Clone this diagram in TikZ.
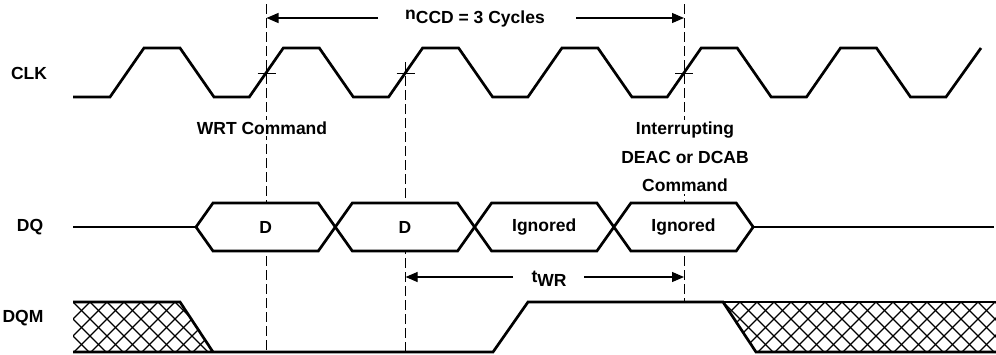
\documentclass[tikz,border=0pt]{standalone}
\usepackage{fontspec}
\setmainfont{Liberation Sans}
\usetikzlibrary{arrows.meta}
\begin{document}
\begin{tikzpicture}[x=1pt,y=-1pt,
  wave/.style={line width=2.7pt,line join=miter,line cap=butt},
  guide/.style={line width=0.9pt,dash pattern=on 10pt off 4pt},
  tickmark/.style={line width=1pt},
  dimline/.style={line width=1.2pt,-{Triangle[length=12pt,width=10pt]}},
  hatchline/.style={line width=1.1pt},
  lbl/.style={font=\fontsize{17.5}{20}\bfseries\selectfont,inner sep=1pt},
  celltext/.style={font=\fontsize{17.5}{20}\bfseries\selectfont,inner sep=1pt},
  note/.style={font=\fontsize{17.5}{28.5}\bfseries\selectfont,fill=white,inner sep=2pt,align=center}]
\useasboundingbox (0,0) rectangle (996,354);

% ---- guide (dashed) lines
\coordinate (g1t) at (266.5,4);   \coordinate (g1b) at (266.5,352);
\coordinate (g2t) at (405.6,62);  \coordinate (g2b) at (405.6,352);
\coordinate (g3t) at (684,4);     \coordinate (g3b) at (684,302);
\draw[guide] (g1t) -- (g1b);
\draw[guide] (g2t) -- (g2b);
\draw[guide] (g3t) -- (g3b);

% ---- signal names
\node[lbl] (clk) at (29,73) {CLK};
\node[lbl] (dq) at (30,227) {DQ};
\node[lbl] (dqm) at (23,318) {DQM};

% ---- clock
\draw[wave] (73,97)
  foreach \k in {0,...,5} {
    -- ({110+139.3*\k},97) -- ({144+139.3*\k},48)
    -- ({180+139.3*\k},48) -- ({214+139.3*\k},97) }
  -- (946,97) -- (981,48);

% crossing ticks
\foreach \g in {1,2,3} {
  \draw[tickmark] ([xshift=-9pt]g\g t |- 0,73) -- ([xshift=9pt]g\g t |- 0,73);
}

% ---- nCCD arrow
\node[lbl] (ccd) at (475,19) {\raisebox{4pt}{n}CCD = 3 Cycles};
\coordinate (ccdL) at (266.5,18);
\coordinate (ccdR) at (684,18);
\coordinate (ccdLs) at (378,18);
\coordinate (ccdRs) at (576,18);
\draw[dimline] (ccdLs) -- (ccdL);
\draw[dimline] (ccdRs) -- (ccdR);

% ---- command labels
\node[note] (wrt) at (262,128) {WRT Command};
\node[note] (intr) at (685,157) {Interrupting\\DEAC or DCAB\\Command};

% ---- DQ bus
\draw[wave] (73,227) -- (196,227);
\foreach \k/\t/\n in {0/D/d1,1/D/d2,2/Ignored/d3,3/Ignored/d4} {
  \pgfmathsetmacro{\a}{196+139.3*\k}
  \pgfmathsetmacro{\b}{196+139.3*(\k+1)}
  \draw[wave,fill=white] (\a,227) -- (\a+17,203) -- (\b-17,203) -- (\b,227)
     -- (\b-17,251) -- (\a+17,251) -- cycle;
  \node[celltext] (\n) at ({(\a+\b)/2},227) {\t};
}
\draw[wave] (753.2,227) -- (994,227);

% ---- tWR arrow
\node[lbl] (twr) at (549,279) {\raisebox{4pt}{t}WR};
\coordinate (twrL) at (405.6,277);
\coordinate (twrR) at (684,277);
\coordinate (twrLs) at (513,277);
\coordinate (twrRs) at (584,277);
\draw[dimline] (twrLs) -- (twrL);
\draw[dimline] (twrRs) -- (twrR);

% ---- DQM hatching
\begin{scope}
  \clip (73,302) -- (180,302) -- (213,352) -- (73,352) -- cycle;
  \foreach \x in {22,39,...,260} {
    \draw[hatchline] (\x,302) -- (\x+50,352);
    \draw[hatchline] (\x,302) -- (\x-50,352);
  }
\end{scope}
\begin{scope}
  \clip (723,302) -- (996,302) -- (996,352) -- (756,352) -- cycle;
  \foreach \x in {706,723,...,1060} {
    \draw[hatchline] (\x,302) -- (\x+50,352);
    \draw[hatchline] (\x,302) -- (\x-50,352);
  }
\end{scope}
\draw[wave] (73,302) -- (180,302) -- (213,352);
\draw[wave] (73,352) -- (493,352) -- (528,302) -- (723,302) -- (756,352) -- (996,352);
\draw[wave] (723,302) -- (996,302);
\end{tikzpicture}
\end{document}
